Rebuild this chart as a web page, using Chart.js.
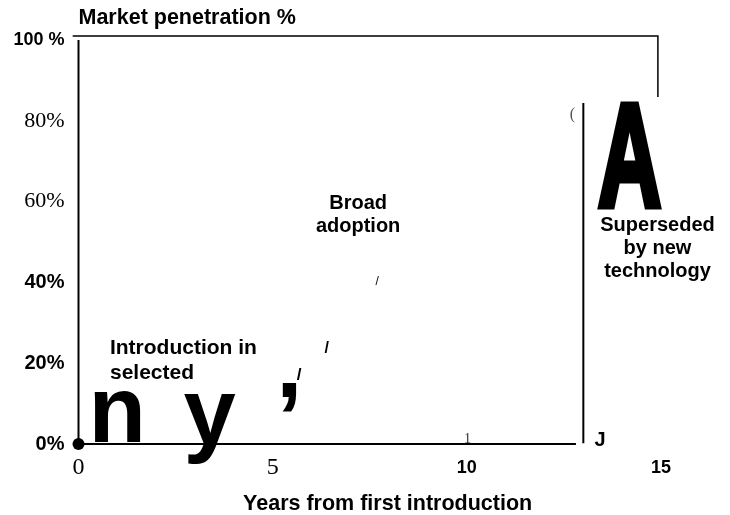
<!DOCTYPE html>
<html>
<head>
<meta charset="utf-8">
<title>Market penetration</title>
<script src="https://cdn.jsdelivr.net/npm/chart.js@4.4.1/dist/chart.umd.min.js"></script>
<style>
  html, body { margin: 0; padding: 0; background: #fff; }
  #wrap { width: 730px; height: 515px; }
</style>
</head>
<body>
<div id="wrap"><canvas id="adoptionChart" width="730" height="515"></canvas></div>
<script>
// tick values and their labels
var yearTicks = [0, 5, 10, 15];
var yearTickLabels = ["0", "5", "10", "15"];
var shareTicks = [0, 20, 40, 60, 80, 100];
var shareTickLabels = ["0%", "20%", "40%", "60%", "80%", "100 %"];

// frame and reference lines, as [year, %]
var topFrame = [[-0.15, 101], [14.92, 101], [14.92, 85.9]];
var leftAxis = [[0, 100], [0, 0]];
var baseLine = [[0, 0], [12.81, 0]];
var supersededLine = [[13.0, 0.2], [13.0, 84.4]];
var originPoint = [[0, 0]];

// texts and the stray glyphs left over from the scan, placed in [year, %]
var noteText = ["Market penetration %", "Years from first introduction", "Broad\nadoption",
    "Introduction in\nselected", "Superseded\nby new\ntechnology", "A", "n", "y", ",",
    "/", "/", "/", "(", "1", "J"];
var noteYear = [0, 7.96, 7.2, 0.81, 14.91, 14.19, 1.0, 3.38, 5.43, 6.39, 5.68, 7.69, 12.72, 10.02, 13.43];
var noteShare = [104.0, -16.3, 58.1, 22.3, 52.8, 59.0, 0.5, 0, 11.6, 22.5, 15.8, 39.4, 80.4, 0.25, -0.5];
var noteKind = ["titleLeft", "title", "label", "labelLeft", "label", "bigA", "big", "big", "big",
    "slash", "slashWide", "slashThin", "paren", "tiny", "small"];

var SANS = "'Liberation Sans', Arial, sans-serif";
var SERIF = "'Liberation Serif', 'Times New Roman', serif";

var noteStyles = {
    titleLeft: { font: "bold 21.5px " + SANS, align: "left" },
    title: { font: "bold 21.5px " + SANS },
    label: { font: "bold 20px " + SANS, lh: 23 },
    labelLeft: { font: "bold 21px " + SANS, align: "left", lh: 25 },
    bigA: { font: "bold 146px " + SANS, sx: 0.6, stroke: 7 },
    big: { font: "bold 94px " + SANS },
    slash: { font: "bold 16px " + SANS },
    slashWide: { font: "bold 17px " + SANS },
    slashThin: { font: "12px " + SANS },
    paren: { font: "16px " + SERIF, color: "#555" },
    tiny: { font: "14px " + SERIF, color: "#333" },
    small: { font: "bold 20px " + SANS },
};

function pts(arr) {
    return arr.map(function (p) { return { x: p[0], y: p[1] }; });
}

function lineSet(arr, width) {
    return {
        data: pts(arr),
        showLine: true,
        borderColor: "#000",
        borderWidth: width,
        pointRadius: 0,
        clip: false,
    };
}

var notesPlugin = {
    id: "notes",
    afterDatasetsDraw: function (chart) {
        var ctx = chart.ctx, xs = chart.scales.x, ys = chart.scales.y;
        noteText.forEach(function (t, i) {
            var st = noteStyles[noteKind[i]];
            ctx.save();
            ctx.font = st.font;
            ctx.fillStyle = st.color || "#000";
            ctx.strokeStyle = st.color || "#000";
            ctx.textAlign = st.align || "center";
            ctx.textBaseline = "alphabetic";
            ctx.translate(xs.getPixelForValue(noteYear[i]), ys.getPixelForValue(noteShare[i]));
            if (st.sx) ctx.scale(st.sx, 1);
            t.split("\n").forEach(function (line, k) {
                ctx.fillText(line, 0, k * (st.lh || 0));
                if (st.stroke) {
                    ctx.lineWidth = st.stroke;
                    ctx.lineJoin = "miter";
                    ctx.strokeText(line, 0, k * (st.lh || 0));
                }
            });
            ctx.restore();
        });
    },
};

var ctx1 = document.getElementById("adoptionChart").getContext("2d"),
    myChart = new Chart(ctx1, {
        type: "scatter",
        data: {
            datasets: [
                lineSet(topFrame, 1.5),
                lineSet(leftAxis, 2),
                lineSet(baseLine, 2),
                lineSet(supersededLine, 2),
                {
                    data: pts(originPoint),
                    pointRadius: 6,
                    pointBackgroundColor: "#000",
                    pointBorderWidth: 0,
                    clip: false,
                },
            ],
        },
        options: {
            responsive: !1,
            animation: !1,
            devicePixelRatio: 1,
            layout: { padding: { left: 0, right: 69, top: 36, bottom: 0 } },
            plugins: { legend: { display: !1 }, tooltip: { enabled: !1 } },
            scales: {
                x: {
                    type: "linear",
                    min: 0,
                    max: 15,
                    afterBuildTicks: function (s) {
                        s.ticks = yearTicks.map(function (v) { return { value: v }; });
                    },
                    afterFit: function (s) { s.height = 71; },
                    grid: { display: !1, drawTicks: !1 },
                    border: { display: !1 },
                    ticks: {
                        autoSkip: !1,
                        maxRotation: 0,
                        padding: 13,
                        color: "#000",
                        callback: function (v) {
                            return yearTickLabels[yearTicks.indexOf(v)];
                        },
                        font: function (c) {
                            var v = c.tick ? c.tick.value : 10;
                            if (v === 0 || v === 5) return { family: SERIF, size: 24, lineHeight: 0.9 };
                            return { family: SANS, size: 18, weight: "bold", lineHeight: 1.2 };
                        },
                    },
                },
                y: {
                    type: "linear",
                    min: 0,
                    max: 101,
                    afterBuildTicks: function (s) {
                        s.ticks = shareTicks.map(function (v) { return { value: v }; });
                    },
                    afterFit: function (s) { s.width = 78.5; },
                    grid: { display: !1, drawTicks: !1 },
                    border: { display: !1 },
                    ticks: {
                        padding: 14,
                        color: "#000",
                        callback: function (v) {
                            return shareTickLabels[shareTicks.indexOf(v)];
                        },
                        font: function (c) {
                            var v = c.tick ? c.tick.value : 0;
                            if (v === 60 || v === 80) return { family: SERIF, size: 22 };
                            if (v === 100) return { family: SANS, size: 18, weight: "bold" };
                            return { family: SANS, size: 20, weight: "bold" };
                        },
                    },
                },
            },
        },
        plugins: [notesPlugin],
    });
</script>
</body>
</html>
